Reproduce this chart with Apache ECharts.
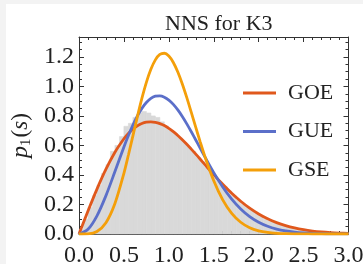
<!DOCTYPE html>
<html><head><meta charset="utf-8">
<script src="https://cdn.jsdelivr.net/npm/echarts@6/dist/echarts.min.js"></script>
<style>
html,body{margin:0;padding:0;width:363px;height:264px;background:#f3f3f3;overflow:hidden}
#c{position:absolute;left:6px;top:4px;width:357px;height:260px;background:#fff}
</style></head><body><div id="c"></div>
<script>
// Histogram (bin width 0.05, bins starting at 0)
const binWidth = 0.05;
const histValues = [0.03,0.10,0.18,0.26,0.33,0.41,0.47,0.56,0.60,0.66,
  0.73,0.75,0.79,0.82,0.83,0.82,0.80,0.79,0.76,0.73,
  0.70,0.68,0.65,0.62,0.59,0.56,0.52,0.49,0.45,0.42,
  0.38,0.35,0.32,0.29,0.26,0.23,0.20,0.18,0.16,0.14,
  0.12,0.10,0.09,0.08,0.07,0.06,0.05,0.04,0.035,0.03,
  0.025,0.02,0.015,0.012,0.01,0.008,0.006,0.005,0.004,0.003];
// Curves
const sGrid = [0,0.1,0.2,0.3,0.4,0.5,0.55,0.6,0.65,0.7,0.75,0.8,0.85,0.9,0.95,1.0,1.05,1.1,1.15,1.2,1.25,1.3,1.35,1.4,1.5,1.6,1.7,1.8,1.9,2.0,2.1,2.2,2.3,2.4,2.5,2.6,2.7,2.8,2.9,3.0];
const goe = [0,0.1559,0.3044,0.4391,0.5541,0.6454,0.6812,0.7104,0.7327,0.7483,0.7574,0.7602,0.7570,0.7483,0.7346,0.7162,0.6938,0.6680,0.6393,0.6083,0.5755,0.5416,0.5068,0.4718,0.4025,0.3365,0.2759,0.2220,0.1752,0.1358,0.1033,0.0772,0.0567,0.0409,0.0290,0.0202,0.0138,0.0093,0.0062,0.0040];
const gue = [0,0.0320,0.1233,0.2602,0.4232,0.5896,0.6673,0.7381,0.8000,0.8514,0.8911,0.9187,0.9337,0.9364,0.9274,0.9076,0.8782,0.8406,0.7962,0.7464,0.6929,0.6371,0.5805,0.5240,0.4158,0.3189,0.2364,0.1698,0.1181,0.0796,0.0521,0.0331,0.0204,0.0122,0.0071,0.0040,0.0022,0.0012,0.0006,0.0003];
const gse = [0,0.0011,0.0170,0.0766,0.2067,0.4116,0.5352,0.6654,0.7956,0.9185,1.0272,1.1158,1.1800,1.2165,1.2249,1.2061,1.1624,1.0975,1.0165,0.9240,0.8242,0.7224,0.6225,0.5275,0.3605,0.2313,0.1397,0.0795,0.0427,0.0217,0.0104,0.0047,0.0020,0.0008,0.0003,0.0001,0,0,0,0];
const seriesNames = ['GOE','GUE','GSE'];
const xTicks = ['0.0','0.5','1.0','1.5','2.0','2.5','3.0'];

const FONT = 'Liberation Serif';
const TXT = '#222';
const AX = '#333';
const chart = echarts.init(document.getElementById('c'), null, {renderer:'canvas'});

function frameAxis(extra){
  return Object.assign({
    axisLine:{show:true,onZero:false,lineStyle:{color:AX,width:1}},
    axisTick:{show:true,inside:true,length:5,lineStyle:{color:AX,width:1}},
    splitLine:{show:false},
    axisLabel:{show:false}
  }, extra);
}
function minorAxis(extra){
  return Object.assign({
    axisLine:{show:false,onZero:false},
    axisTick:{show:true,inside:true,length:3,lineStyle:{color:AX,width:1}},
    splitLine:{show:false},
    axisLabel:{show:false}
  }, extra);
}

const pairs = arr => sGrid.map((s,i)=>[s,arr[i]]);
const colors = ['#e0581c','#5b6fc9','#f49f0a'];
const labelStyle = {fontFamily:FONT,fontSize:24,color:TXT};

chart.setOption({
  animation:false,
  backgroundColor:'#fff',
  title:{text:'NNS for K3',left:154,top:4,textStyle:{fontFamily:FONT,fontSize:22,fontWeight:'normal',color:TXT}},
  grid:{left:73,top:33,right:14.5,bottom:30,containLabel:false,outerBoundsMode:'none'},
  legend:{orient:'vertical',left:237,top:78,padding:0,itemWidth:33,itemHeight:3,itemGap:16.5,icon:'rect',
    data:seriesNames,
    textStyle:{fontFamily:FONT,fontSize:22,color:TXT,padding:[0,0,0,7]}},
  xAxis:[
    frameAxis({type:'value',min:0,max:3,interval:0.5,position:'bottom',
      axisLabel:Object.assign({show:true,margin:10,formatter:(v)=>xTicks[Math.round(v/0.5)]},labelStyle)}),
    frameAxis({type:'value',min:0,max:3,interval:0.5,position:'top'}),
    minorAxis({type:'value',min:0,max:3,interval:0.1,position:'bottom'}),
    minorAxis({type:'value',min:0,max:3,interval:0.1,position:'top'})
  ],
  yAxis:[
    frameAxis({type:'value',min:0,max:1.335,interval:0.2,position:'left',
      name:'{p|p}{sub|1}{n|(}{i|s}{n|)}',nameLocation:'middle',nameRotate:90,nameGap:44,
      nameTextStyle:{fontFamily:FONT,color:TXT,
        rich:{p:{fontFamily:FONT,fontSize:24,fontStyle:'italic',color:TXT,lineHeight:24},
              sub:{fontFamily:FONT,fontSize:15,color:TXT,verticalAlign:'bottom',lineHeight:15,padding:[0,1,0,0]},
              n:{fontFamily:FONT,fontSize:23,color:TXT,lineHeight:24},
              i:{fontFamily:FONT,fontSize:23,fontStyle:'italic',color:TXT,lineHeight:24}}},
      axisLabel:Object.assign({show:true,margin:5,showMaxLabel:false,formatter:(v)=>v.toFixed(1)},labelStyle)}),
    frameAxis({type:'value',min:0,max:1.335,interval:0.2,position:'right'}),
    minorAxis({type:'value',min:0,max:1.335,interval:0.05,position:'left'}),
    minorAxis({type:'value',min:0,max:1.335,interval:0.05,position:'right'})
  ],
  series:[
    {type:'custom',name:'hist',xAxisIndex:0,yAxisIndex:0,silent:true,z:1,
      data:histValues.map((h,i)=>[i*binWidth,h]),
      encode:{x:0,y:1},
      renderItem:(params,api)=>{
        const x0=api.value(0), h=api.value(1);
        const p0=api.coord([x0,h]);
        const p1=api.coord([x0+binWidth,0]);
        return {type:'rect',shape:{x:p0[0],y:p0[1],width:p1[0]-p0[0],height:p1[1]-p0[1]},
          style:{fill:'#d9d9d9',stroke:'#d9d9d9',lineWidth:0.6}};
      }},
    ...[goe,gue,gse].map((arr,k)=>({
      type:'line',name:seriesNames[k],xAxisIndex:0,yAxisIndex:0,data:pairs(arr),
      smooth:0.3,showSymbol:false,symbol:'none',z:3+k,
      color:colors[k],
      lineStyle:{color:colors[k],width:2.8},
      itemStyle:{color:colors[k]}
    }))
  ]
});
</script></body></html>
